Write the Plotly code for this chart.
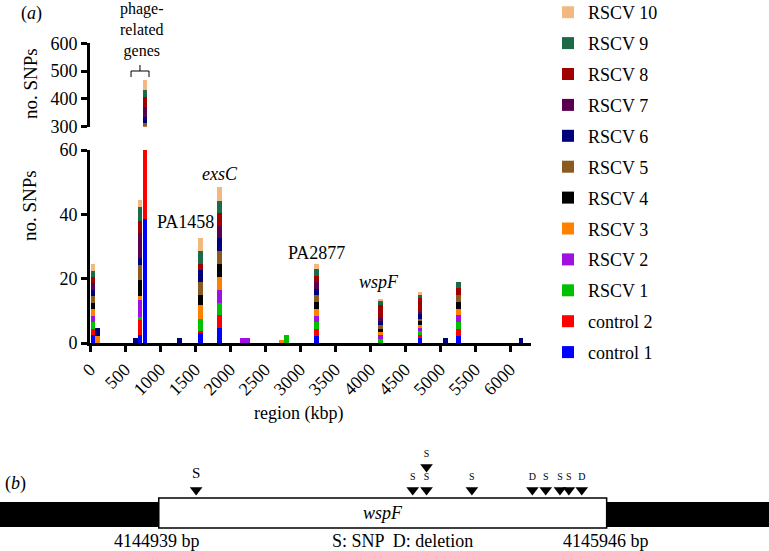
import plotly.graph_objects as go

W, H = 769, 551
FONT = "Liberation Serif, 'Times New Roman', Times, 'DejaVu Serif', serif"

# ---------------- panel (a) data ----------------
region_kbp = [43, 113, 650, 714, 786, 1273, 1583, 1854, 2180, 2250,
              2735, 2805, 3230, 4150, 4714, 5083, 5262, 6157]

control_1 = [2.5, 0, 0, 2.6, 38.5, 0, 3.0, 4.6, 0, 0, 0, 0, 2.2, 0, 1.6, 0, 2.3, 0]
control_2 = [2.0, 0, 0, 4.7, 60, 0, 0.8, 4.1, 0, 0, 0, 0, 2.2, 0, 1.0, 0, 2.1, 0]
rscv_1 = [2.0, 0, 0, 0.8, 50, 0, 3.8, 3.8, 0, 0, 0, 2.6, 2.0, 1.3, 1.0, 0, 2.1, 0]
rscv_2 = [2.0, 0, 0, 5.4, 50, 0, 0, 4.1, 1.5, 1.5, 0, 0, 2.1, 1.1, 1.0, 0, 2.1, 0]
rscv_3 = [2.0, 2.2, 0, 1.0, 50, 0, 4.1, 3.9, 0, 0, 1.0, 0, 2.2, 0.9, 1.0, 0, 2.1, 0]
rscv_4 = [2.0, 0, 0, 5.2, 50, 0, 3.1, 4.1, 0, 0, 0, 0, 2.0, 1.1, 1.2, 0, 2.1, 0]
rscv_5 = [2.0, 0, 0, 4.7, 14, 0, 4.1, 3.9, 0, 0, 0, 0, 2.2, 1.1, 0.8, 0, 2.1, 0]
rscv_6 = [2.0, 2.5, 1.5, 2.1, 24, 1.5, 3.8, 4.1, 0, 0, 0, 0, 2.0, 1.3, 1.5, 1.5, 0, 1.5]
rscv_7 = [2.0, 0, 0, 7.8, 36, 0, 0, 3.8, 0, 0, 0, 0, 2.2, 0.9, 0.4, 0, 0, 0]
rscv_8 = [2.0, 0, 0, 3.6, 34, 0, 1.9, 4.1, 0, 0, 0, 0, 1.8, 4.2, 4.5, 0, 2.1, 0]
rscv_9 = [2.0, 0, 0, 4.4, 26, 0, 3.9, 3.8, 0, 0, 0, 0, 2.1, 1.1, 1.0, 0, 2.1, 0]
rscv_10 = [2.0, 0, 0, 2.1, 36, 0, 4.0, 4.1, 0, 0, 0, 0, 1.6, 0.7, 0.8, 0, 0, 0]

series_names = ["control 1", "control 2", "RSCV 1", "RSCV 2", "RSCV 3", "RSCV 4",
                "RSCV 5", "RSCV 6", "RSCV 7", "RSCV 8", "RSCV 9", "RSCV 10"]
series_values = [control_1, control_2, rscv_1, rscv_2, rscv_3, rscv_4,
                 rscv_5, rscv_6, rscv_7, rscv_8, rscv_9, rscv_10]
series_colors = ["#0000FF", "#FF0000", "#00C000", "#A010E0", "#FF8000", "#000000",
                 "#8B5A20", "#00007A", "#5A004E", "#A00000", "#1C6B46", "#F2B880"]

x_ticks = [0, 500, 1000, 1500, 2000, 2500, 3000, 3500, 4000, 4500, 5000, 5500, 6000]
y_low_ticks = [0, 20, 40, 60]
y_high_ticks = [300, 400, 500, 600]

# gene labels in panel (a)
gene_labels = ["PA1458", "<i>exsC</i>", "PA2877", "<i>wspF</i>"]
gene_label_kbp = [1360, 1850, 3230, 4130]
gene_label_snps = [37.5, 52.5, 28, 19]

# ---------------- panel (b) data ----------------
wspf_start_bp = 4144939
wspf_end_bp = 4145946
region_start_bp = 4144582
region_end_bp = 4146311
mutation_bp = [4145023, 4145510, 4145541, 4145541, 4145643,
               4145779, 4145809, 4145841, 4145861, 4145890]
mutation_type = ["S", "S", "S", "S", "S", "D", "S", "S", "S", "D"]
mutation_row = [0, 0, 0, 1, 0, 0, 0, 0, 0, 0]

fig = go.Figure()

n = len(series_names)
for i, (name, vals, col) in enumerate(zip(series_names, series_values, series_colors)):
    fig.add_trace(go.Bar(x=region_kbp, y=vals, name=name, width=70,
                         marker=dict(color=col, line=dict(width=0)),
                         xaxis="x", yaxis="y", legendgroup=name,
                         legendrank=100 + n - i))
for name, vals, col in zip(series_names, series_values, series_colors):
    fig.add_trace(go.Bar(x=region_kbp, y=vals, name=name, width=70,
                         marker=dict(color=col, line=dict(width=0)),
                         xaxis="x", yaxis="y2", legendgroup=name, showlegend=False))

# panel (b) mutation markers
fig.add_trace(go.Scatter(
    x=mutation_bp, y=[61 + 23 * r for r in mutation_row],
    mode="markers+text", text=mutation_type, textposition="top center",
    textfont=dict(family=FONT, size=[15] + [10] * (len(mutation_bp) - 1), color="black"),
    marker=dict(symbol="triangle-down", size=11, color="black"),
    xaxis="x3", yaxis="y3", showlegend=False, hoverinfo="skip"))

axis_common = dict(showline=True, linecolor="black", linewidth=3, ticks="outside",
                   ticklen=6, tickwidth=3, tickcolor="black", showgrid=False,
                   zeroline=False, tickfont=dict(family=FONT, size=18, color="black"))

fig.update_layout(
    width=W, height=H, margin=dict(l=0, r=0, t=0, b=0, autoexpand=False),
    paper_bgcolor="white", plot_bgcolor="white",
    barmode="stack",
    font=dict(family=FONT, color="black"),
    xaxis=dict(domain=[90 / W, 531 / W], range=[0, 6300], anchor="y",
               tickvals=x_ticks, tickangle=-45, **axis_common),
    yaxis=dict(domain=[1 - 343 / H, 1 - 150 / H], range=[0, 60], anchor="x",
               tickvals=y_low_ticks, **axis_common),
    yaxis2=dict(domain=[1 - 126.7 / H, 1 - 43.3 / H], range=[300, 600], anchor="x",
                tickvals=y_high_ticks, **axis_common),
    xaxis3=dict(domain=[0, 1], range=[region_start_bp, region_end_bp], anchor="y3",
                visible=False),
    yaxis3=dict(domain=[0, 111 / H], range=[0, 111], anchor="x3", visible=False),
    legend=dict(x=548 / W, y=1 + 6 / H, xanchor="left", yanchor="top",
                traceorder="grouped", tracegroupgap=4.5, maxheight=540,
                font=dict(family=FONT, size=18, color="black"),
                bgcolor="rgba(0,0,0,0)"),
    showlegend=True,
)

# panel (b) gene diagram shapes
fig.add_shape(type="rect", xref="x3", yref="y3", x0=region_start_bp, x1=region_end_bp,
              y0=24, y1=49, fillcolor="black", line=dict(width=0), layer="below")
fig.add_shape(type="rect", xref="x3", yref="y3", x0=wspf_start_bp, x1=wspf_end_bp,
              y0=23, y1=53, fillcolor="white", line=dict(color="black", width=1.5))

# bracket over phage-related genes
bx0, bxm, bx1 = 586, 714, 843
def py(p):
    return 1 - p / H
fig.add_shape(type="path", xref="x", yref="paper",
              path=f"M {bx0},{py(77)} L {bx0},{py(71)} L {bxm},{py(71)} L {bxm},{py(65)} "
                   f"M {bxm},{py(71)} L {bx1},{py(71)} L {bx1},{py(77)}",
              line=dict(color="black", width=1))

ann = []
def add_text(text, x, y, size=18, xref="paper", yref="paper", angle=0, xanchor="center"):
    ann.append(dict(text=text, x=x, y=y, xref=xref, yref=yref, showarrow=False,
                    textangle=angle, xanchor=xanchor, yanchor="middle",
                    font=dict(family=FONT, size=size, color="black")))

add_text("(<i>a</i>)", 31 / W, py(13))
add_text("(<i>b</i>)", 15 / W, py(483))
add_text("phage-<br>related<br>genes", 142 / W, py(30), size=16)
add_text("no. SNPs", 30 / W, py(84), size=19, angle=-90)
add_text("no. SNPs", 30 / W, py(206), size=19, angle=-90)
add_text("region (kbp)", 298 / W, py(413))
for t, xk, ys in zip(gene_labels, gene_label_kbp, gene_label_snps):
    ann.append(dict(text=t, x=xk, y=ys, xref="x", yref="y", showarrow=False,
                    font=dict(family=FONT, size=18, color="black")))
ann.append(dict(text="<i>wspF</i>", x=(wspf_start_bp + wspf_end_bp) / 2, y=38,
                xref="x3", yref="y3", showarrow=False,
                font=dict(family=FONT, size=18, color="black")))
add_text(f"{wspf_start_bp} bp", 157 / W, py(541))
add_text("S: SNP  D: deletion", 402 / W, py(541))
add_text(f"{wspf_end_bp} bp", 606 / W, py(541))
fig.update_layout(annotations=ann)

fig.write_html("out.html", config={"displayModeBar": False},
               post_script="document.body.style.margin='0';document.body.style.padding='0';")
